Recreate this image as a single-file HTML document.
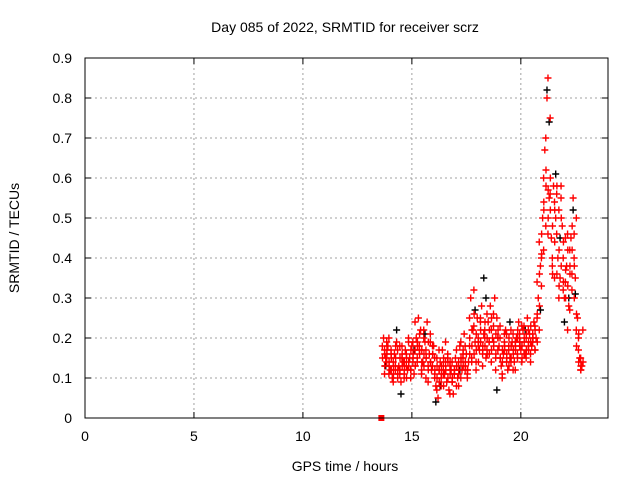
<!DOCTYPE html>
<html><head><meta charset="utf-8"><style>
body{margin:0;background:#fff}
svg{display:block;font-family:"Liberation Sans",sans-serif}
</style></head><body>
<svg id="chart" width="640" height="480">
<rect width="640" height="480" fill="#fff"/>
<text x="345" y="32" font-size="14" text-anchor="middle">Day 085 of 2022, SRMTID for receiver scrz</text>
<text x="345" y="471" font-size="14" text-anchor="middle">GPS time / hours</text>
<text transform="translate(19,238) rotate(-90)" font-size="14" text-anchor="middle">SRMTID / TECUs</text>
<g id="grid"></g>
<g id="ticks"></g>
<g id="marks"></g>
<rect x="85" y="58" width="523" height="360" fill="none" stroke="#000" stroke-width="1"/>
</svg>
<script>
const xTicks=[0,5,10,15,20];
const yTicks=[0,0.1,0.2,0.3,0.4,0.5,0.6,0.7,0.8,0.9];
const yTickLabels=["0","0.1","0.2","0.3","0.4","0.5","0.6","0.7","0.8","0.9"];
const times=[13.7,13.8,13.9,14.0,14.1,14.2,14.3,14.4,14.5,14.6,14.7,14.8,14.9,15.0,15.1,15.2,15.3,15.4,15.5,15.6,15.7,15.8,15.9,16.0,16.1,16.2,16.3,16.4,16.5,16.6,16.7,16.8,16.9,17.0,17.1,17.2,17.3,17.4,17.5,17.6,17.7,17.8,17.9,18.0,18.1,18.2,18.3,18.4,18.5,18.6,18.7,18.8,18.9,19.0,19.1,19.2,19.3,19.4,19.5,19.6,19.7,19.8,19.9,20.0,20.1,20.2,20.3,20.4,20.5,20.6,20.7,20.8,20.9,21.0,21.1,21.2,21.3,21.4,21.5,21.6,21.7,21.8,21.9,22.0,22.1,22.2,22.3,22.4,22.5,22.6,22.7,22.8];
const redA=[.20,.15,.18,.12,.10,.16,.19,.13,.09,.14,.17,.12,.15,.18,.11,.20,.25,.22,.14,.19,.24,.16,.12,.18,.08,.05,.14,.17,.11,.09,.07,.12,.06,.15,.10,.18,.12,.21,.16,.14,.30,.22,.19,.25,.17,.28,.21,.15,.24,.28,.20,.30,.25,.18,.13,.16,.22,.12,.15,.19,.14,.20,.24,.17,.22,.16,.25,.21,.18,.24,.20,.30,.38,.50,.67,.80,.55,.45,.58,.50,.40,.35,.48,.30,.38,.28,.45,.55,.35,.25,.15,.13];
const redB=[.17,.19,.11,.17,.14,.12,.10,.18,.15,.11,.13,.19,.10,.14,.17,.15,.17,.12,.20,.10,.13,.21,.18,.10,.15,.12,.08,.11,.14,.16,.13,.09,.11,.08,.14,.10,.16,.12,.10,.18,.14,.32,.14,.18,.25,.16,.20,.26,.19,.22,.26,.15,.20,.23,.10,.21,.14,.18,.22,.12,.19,.15,.18,.23,.16,.20,.18,.14,.21,.17,.25,.22,.33,.42,.48,.85,.75,.40,.35,.56,.52,.58,.32,.45,.22,.42,.32,.46,.50,.20,.12,.22];
const redC=[.15,.13,.16,.14,.12,.13,.15,.11,.12,.16,.14,.10,.13,.12,.15,.13,.19,.16,.17,.13,.15,.12,.14,.16,.11,.10,.12,.13,.08,.12,.10,.14,.09,.12,.13,.12,.14,.17,.13,.12,.20,.18,.16,.21,.14,.19,.17,.18,.20,.16,.17,.19,.16,.20,.15,.14,.17,.16,.13,.15,.16,.18,.20,.19,.18,.19,.21,.17,.19,.20,.17,.26,.36,.46,.54,.62,.57,.52,.48,.44,.36,.42,.38,.34,.30,.33,.38,.42,.30,.18,.14,.12];
const redD=[.18,.11,.14,.20,.16,.09,.13,.17,.11,.18,.10,.16,.20,.12,.19,.24,.14,.18,.11,.22,.17,.09,.19,.13,.15,.07,.17,.10,.13,.19,.15,.06,.14,.11,.17,.08,.19,.15,.18,.11,.25,.15,.23,.12,.20,.24,.13,.22,.17,.19,.14,.23,.12,.17,.20,.11,.19,.21,.17,.14,.21,.12,.16,.21,.14,.23,.15,.22,.16,.19,.23,.34,.44,.40,.60,.70,.46,.56,.38,.54,.46,.30,.55,.40,.34,.46,.27,.36,.40,.22,.17,.15];
const redE=[.16,.17,.13,.15,.11,.18,.12,.15,.13,.12,.15,.14,.17,.16,.13,.18,.21,.14,.16,.15,.19,.14,.16,.12,.13,.09,.11,.15,.12,.14,.11,.10,.12,.13,.11,.15,.13,.14,.12,.16,.22,.26,.17,.19,.22,.18,.24,.16,.22,.25,.18,.21,.22,.15,.17,.18,.15,.20,.18,.17,.17,.22,.19,.15,.20,.17,.19,.23,.20,.22,.19,.28,.41,.52,.58,.50,.60,.36,.52,.58,.33,.50,.44,.37,.42,.36,.48,.38,.26,.21,.13,.14];
const blackT=[13.8,14.3,14.5,15.1,15.6,16.1,16.3,17.2,17.9,18.3,18.4,18.9,19.5,20.2,20.9,21.2,21.3,21.6,21.8,22.0,22.2,22.4,22.5];
const blackV=[.13,.22,.06,.17,.21,.04,.08,.12,.27,.35,.30,.07,.24,.22,.27,.82,.74,.61,.45,.24,.30,.52,.31];
const squareT=[13.6], squareV=[0];

const X=t=>85+t*(523/24), Y=v=>418-v*400;
const ns="http://www.w3.org/2000/svg";
const grid=document.getElementById('grid'), ticks=document.getElementById('ticks'), marks=document.getElementById('marks');
function mk(tag,attrs,parent){const e=document.createElementNS(ns,tag);for(const k in attrs)e.setAttribute(k,attrs[k]);parent.appendChild(e);return e;}
xTicks.forEach(t=>{
  const x=X(t);
  if(t>0){const g=mk('line',{x1:x,y1:58,x2:x,y2:418,stroke:'#a0a0a0','stroke-dasharray':'2,3'},grid);
  
  }
  mk('line',{x1:x,y1:418,x2:x,y2:412,stroke:'#000'},ticks);
  mk('line',{x1:x,y1:58,x2:x,y2:64,stroke:'#000'},ticks);
  const l=mk('text',{x:x,y:441,'font-size':14,'text-anchor':'middle'},ticks);l.textContent=t;
  
  
});
yTicks.forEach((v,i)=>{
  const y=Y(v);
  if(v>0&&v<0.9){const g=mk('line',{x1:85,y1:y,x2:608,y2:y,stroke:'#a0a0a0','stroke-dasharray':'2,3'},grid);
  
  }
  mk('line',{x1:85,y1:y,x2:91,y2:y,stroke:'#000'},ticks);
  mk('line',{x1:608,y1:y,x2:602,y2:y,stroke:'#000'},ticks);
  const l=mk('text',{x:72,y:y+5,'font-size':14,'text-anchor':'end'},ticks);l.textContent=yTickLabels[i];
  
  
});
function plus(t,v,c,off){
  const x=X(t)+off,y=Y(v);
  const p=mk('path',{d:`M${x-3.5},${y}H${x+3.5}M${x},${y-3.5}V${y+3.5}`,stroke:c,'stroke-width':1.4,fill:'none'},marks);
  
  
}
blackT.forEach((t,i)=>plus(t,blackV[i],'#000',0));
times.forEach((t,i)=>{plus(t,redA[i],'#f00',0);plus(t,redB[i],'#f00',1);plus(t,redC[i],'#f00',-1);plus(t,redD[i],'#f00',-1.2);plus(t,redE[i],'#f00',1.2);});
squareT.forEach((t,i)=>{const r=mk('rect',{x:X(t)-3,y:Y(squareV[i])-3,width:6,height:6,fill:'#f00'},marks);

});
</script>
</body></html>
